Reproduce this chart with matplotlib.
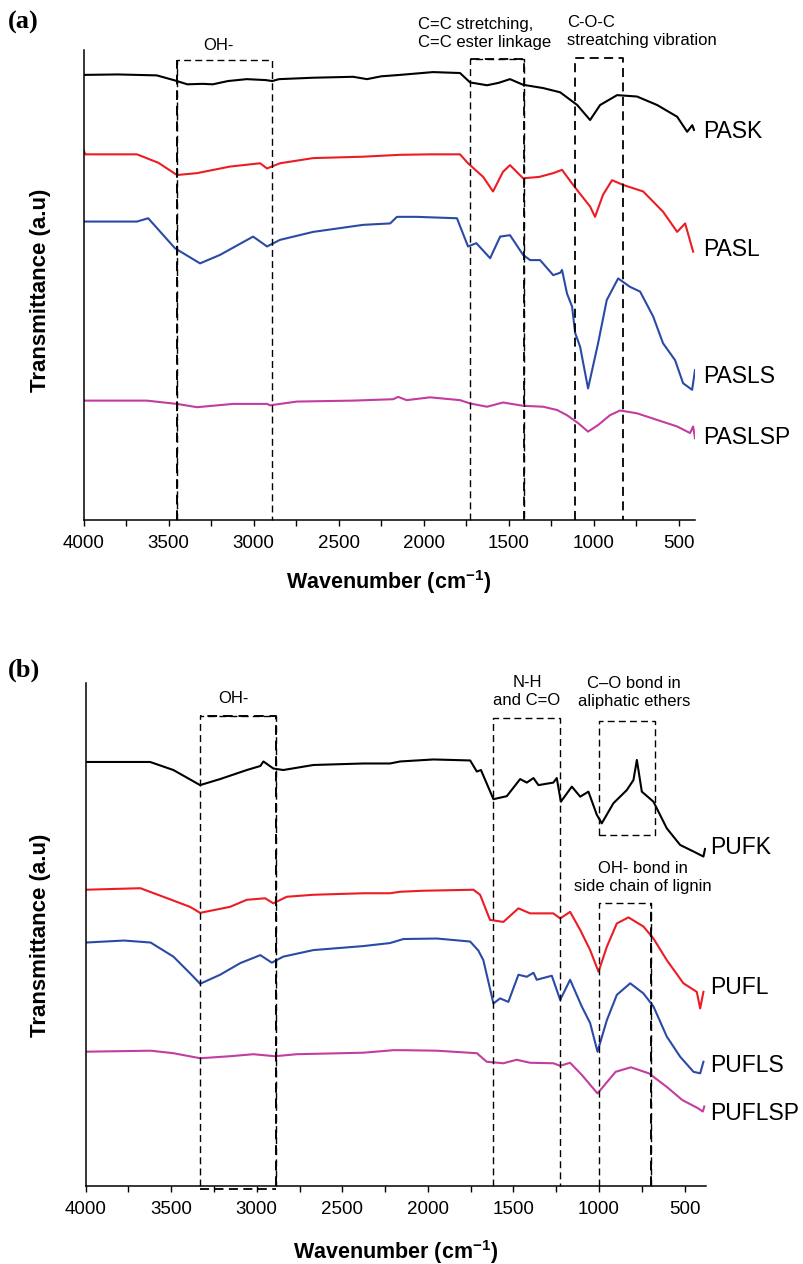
import matplotlib.pyplot as plt
from matplotlib.ticker import MultipleLocator

plt.rcParams['font.family'] = ['Liberation Sans', 'DejaVu Sans']
plt.rcParams['mathtext.default'] = 'regular'

# ---- panel (a) spectra (wavenumber cm-1, transmittance a.u.) ----
pask_wn = [4000, 3800, 3570, 3470, 3390, 3300, 3240, 3150, 3040, 2930, 2890, 2850, 2650,
           2415, 2333, 2250, 2140, 1945, 1786, 1727, 1627, 1560, 1492, 1415, 1297, 1197,
           1097, 1021, 962, 862, 745, 627, 509, 450, 420, 410]
pask_t = [94.7, 94.8, 94.6, 93.6, 92.7, 92.8, 92.7, 93.4, 93.8, 93.6, 93.4, 93.8, 94.1,
          94.3, 93.8, 94.4, 94.7, 95.3, 95.1, 93.1, 92.5, 93.0, 93.8, 92.6, 91.9, 91.0,
          88.3, 85.1, 88.3, 90.4, 90.1, 88.3, 85.8, 82.6, 84.0, 83.0]

pasl_wn = [4000, 3990, 3686, 3560, 3451, 3333, 3139, 2962, 2921, 2845, 2650, 2355, 2140,
           1960, 1786, 1739, 1650, 1592, 1533, 1492, 1415, 1320, 1238, 1186, 1127, 1091,
           1021, 992, 945, 892, 827, 709, 592, 509, 462, 415]
pasl_t = [78.7, 77.8, 77.8, 76.0, 73.4, 73.8, 75.2, 75.9, 74.8, 75.9, 77.0, 77.3, 77.7,
          77.8, 77.8, 75.9, 73.0, 69.9, 74.1, 75.5, 72.7, 73.0, 73.8, 74.5, 71.6, 69.9,
          66.7, 64.5, 69.2, 72.3, 71.3, 69.9, 65.6, 61.3, 63.1, 57.1]

pasls_wn = [4000, 3686, 3620, 3462, 3315, 3198, 3003, 2921, 2845, 2650, 2355, 2197, 2157,
            2039, 1804, 1739, 1690, 1609, 1550, 1492, 1415, 1374, 1315, 1238, 1197, 1186,
            1157, 1127, 1109, 1080, 1033, 974, 923, 856, 786, 727, 650, 592, 521, 474,
            421, 404]
pasls_t = [63.5, 63.5, 64.2, 57.8, 54.6, 56.4, 60.3, 58.2, 59.6, 61.3, 62.8, 63.1, 64.5,
           64.5, 64.2, 58.2, 58.9, 55.7, 60.3, 60.6, 56.4, 55.3, 55.3, 52.1, 52.6, 53.2,
           48.2, 45.4, 39.8, 36.9, 28.0, 37.6, 46.8, 51.4, 49.6, 48.6, 43.3, 37.6, 34.0,
           29.1, 27.7, 31.9]

paslsp_wn = [4000, 3629, 3451, 3333, 3121, 2921, 2904, 2745, 2415, 2179, 2150, 2100, 1962,
             1786, 1727, 1627, 1533, 1415, 1297, 1215, 1157, 1091, 1033, 974, 904, 845,
             745, 627, 509, 433, 415, 404]
paslsp_t = [25.4, 25.4, 24.7, 24.0, 24.7, 24.7, 24.4, 25.2, 25.4, 25.7, 26.2, 25.5, 26.1,
            25.5, 24.8, 24.1, 25.0, 24.3, 24.1, 23.4, 22.3, 20.6, 18.8, 20.2, 22.3, 23.3,
            22.7, 21.3, 19.9, 18.5, 19.9, 17.4]

# ---- panel (b) spectra ----
pufk_wn = [4000, 3623, 3487, 3331, 3214, 3058, 2979, 2961, 2903, 2845, 2669, 2377, 2221,
           2162, 1968, 1753, 1714, 1690, 1617, 1539, 1461, 1422, 1383, 1354, 1267, 1247,
           1223, 1159, 1110, 1062, 1013, 984, 916, 838, 799, 779, 750, 682, 604, 526,
           448, 390, 381]
pufk_t = [84.3, 84.3, 82.7, 79.7, 80.9, 82.7, 83.5, 84.4, 83.0, 82.7, 83.7, 84.0, 84.0,
          84.4, 84.8, 84.6, 82.4, 82.7, 76.9, 77.5, 80.9, 80.2, 81.1, 79.7, 80.2, 81.1,
          76.4, 79.4, 77.4, 78.4, 73.8, 72.1, 76.1, 78.7, 80.7, 84.7, 78.4, 76.4, 71.1,
          67.8, 66.5, 65.5, 67.0]

pufl_wn = [4000, 3680, 3546, 3390, 3331, 3156, 3058, 2951, 2903, 2825, 2669, 2377, 2221,
           2162, 2026, 1734, 1695, 1637, 1559, 1471, 1403, 1267, 1227, 1169, 1110, 1052,
           1003, 954, 896, 828, 741, 682, 604, 507, 429, 409, 390]
pufl_t = [58.9, 59.2, 57.5, 55.5, 54.3, 55.5, 56.9, 57.2, 56.2, 57.5, 57.9, 58.2, 58.2,
          58.5, 58.7, 58.9, 57.9, 52.9, 52.5, 55.2, 54.2, 54.2, 53.2, 54.5, 50.9, 46.9,
          42.6, 47.6, 52.2, 53.4, 51.6, 49.2, 44.9, 40.3, 38.6, 35.3, 38.6]

pufls_wn = [4000, 3775, 3620, 3487, 3390, 3331, 3214, 3097, 2979, 2912, 2845, 2669, 2377,
            2221, 2143, 1948, 1753, 1705, 1676, 1617, 1578, 1530, 1471, 1422, 1383, 1364,
            1276, 1227, 1169, 1101, 1052, 1009, 954, 896, 818, 741, 682, 604, 526, 448,
            409, 390]
pufls_t = [48.4, 48.8, 48.4, 45.6, 42.3, 40.2, 42.0, 44.3, 45.9, 44.4, 45.6, 46.9, 47.7,
           48.3, 49.1, 49.2, 48.6, 46.8, 44.9, 36.3, 37.3, 36.6, 42.0, 41.6, 42.4, 41.0,
           41.8, 37.0, 41.0, 35.7, 32.4, 26.7, 33.0, 38.0, 40.3, 38.3, 35.7, 29.7, 25.7,
           22.7, 22.4, 24.7]

puflsp_wn = [4000, 3620, 3487, 3331, 3156, 3020, 2893, 2766, 2377, 2202, 2143, 1948, 1714,
             1656, 1559, 1481, 1403, 1267, 1227, 1169, 1101, 1009, 903, 814, 709, 604,
             514, 424, 394, 385]
puflsp_t = [26.7, 26.9, 26.4, 25.4, 25.8, 26.2, 25.8, 26.2, 26.5, 27.0, 27.0, 26.9, 26.4,
            24.7, 24.4, 25.1, 24.5, 24.4, 23.9, 24.5, 22.1, 18.4, 22.7, 23.6, 22.4, 19.7,
            17.1, 15.5, 14.8, 15.8]

colors = ['black', '#ec1c24', '#2b4aa6', '#c23d9f']
names_a = ['PASK', 'PASL', 'PASLS', 'PASLSP']
names_b = ['PUFK', 'PUFL', 'PUFLS', 'PUFLSP']

W, H = 804, 1264


def fx(px):
    return px / W


def fy(py):
    return 1 - py / H


fig = plt.figure(figsize=(W / 100, H / 100), dpi=100)
ax_a = fig.add_axes([fx(83.6), fy(520), (695 - 83.6) / W, 470 / H])
ax_b = fig.add_axes([fx(85.6), fy(1186), (706 - 85.6) / W, 503 / H])

for ax, right in [(ax_a, 404), (ax_b, 375)]:
    ax.set_xlim(4000, right)
    ax.set_ylim(0, 100)
    ax.spines['top'].set_visible(False)
    ax.spines['right'].set_visible(False)
    ax.spines['left'].set_linewidth(1.1)
    ax.spines['bottom'].set_linewidth(1.1)
    ax.set_yticks([])
    ax.xaxis.set_major_locator(MultipleLocator(500))
    ax.xaxis.set_minor_locator(MultipleLocator(250))
    ax.tick_params(axis='x', which='both', direction='out', length=4.5, width=1.0,
                   labelsize=13.5, pad=6)

ax_a.plot(pask_wn, pask_t, c=colors[0], lw=1.5)
ax_a.plot(pasl_wn, pasl_t, c=colors[1], lw=1.5)
ax_a.plot(pasls_wn, pasls_t, c=colors[2], lw=1.5)
ax_a.plot(paslsp_wn, paslsp_t, c=colors[3], lw=1.5)

ax_b.plot(pufk_wn, pufk_t, c=colors[0], lw=1.5)
ax_b.plot(pufl_wn, pufl_t, c=colors[1], lw=1.5)
ax_b.plot(pufls_wn, pufls_t, c=colors[2], lw=1.5)
ax_b.plot(puflsp_wn, puflsp_t, c=colors[3], lw=1.5)


def dashed(ax, xs, ys, lw=1.0):
    ax.plot(xs, ys, c='black', lw=lw, ls=(0, (5, 3)), clip_on=False)


# band boxes, panel (a)
dashed(ax_a, [3450, 3450, 2890, 2890], [0, 97.9, 97.9, 0])
dashed(ax_a, [3450, 3450], [0, 97.9], lw=1.4)
dashed(ax_a, [1730, 1730, 1410, 1410], [0, 98.1, 98.1, 0])
dashed(ax_a, [1410, 1410, 1730], [0, 98.1, 98.1], lw=1.3)
dashed(ax_a, [1110, 1110, 830, 830], [0, 98.3, 98.3, 0], lw=1.3)

# band boxes, panel (b)
dashed(ax_b, [3330, 3330, 2890, 2890], [0, 93.4, 93.4, 0])
dashed(ax_b, [2890, 2890, 3330], [0, 93.4, 93.4], lw=1.4)
dashed(ax_b, [3330, 2890], [-0.5, -0.5], lw=1.3)
dashed(ax_b, [1620, 1620, 1230, 1230], [0, 93.0, 93.0, 0])
dashed(ax_b, [1003, 1003, 672, 672, 1003], [69.8, 92.4, 92.4, 69.8, 69.8])
dashed(ax_b, [998, 998, 697, 697], [0, 56.3, 56.3, 0])
dashed(ax_b, [697, 697], [0, 56.3], lw=1.4)

# curve labels
for name, py in zip(names_a, [132, 250, 377, 437]):
    fig.text(fx(703), fy(py), name, fontsize=16.5, va='center', ha='left')
for name, py in zip(names_b, [847, 988, 1065, 1113]):
    fig.text(fx(710), fy(py), name, fontsize=16.5, va='center', ha='left')

# band annotations
fig.text(fx(218), fy(45), 'OH-', fontsize=12, ha='center', va='center')
fig.text(fx(418), fy(33), 'C=C stretching,\nC=C ester linkage', fontsize=12,
         ha='left', va='center', linespacing=1.25)
fig.text(fx(567), fy(31.5), 'C-O-C\nstreatching vibration', fontsize=12,
         ha='left', va='center', linespacing=1.25)

fig.text(fx(233), fy(699), 'OH-', fontsize=12, ha='center', va='center')
fig.text(fx(527), fy(691.5), 'N-H\nand C=O', fontsize=12, ha='center', va='center',
         linespacing=1.25)
fig.text(fx(634), fy(692.5), 'C\u2013O bond in\naliphatic ethers', fontsize=12,
         ha='center', va='center', linespacing=1.25)
fig.text(fx(643), fy(877.5), 'OH- bond in\nside chain of lignin', fontsize=12,
         ha='center', va='center', linespacing=1.25)

# axis titles
for ycen in [290, 935]:
    fig.text(fx(41), fy(ycen), 'Transmittance (a.u)', fontsize=16, fontweight='bold',
             rotation=90, ha='center', va='center')
fig.text(fx(389), fy(582), 'Wavenumber (cm$^{-1}$)', fontsize=15.5, fontweight='bold',
         ha='center', va='center')
fig.text(fx(396), fy(1252), 'Wavenumber (cm$^{-1}$)', fontsize=15.5, fontweight='bold',
         ha='center', va='center')

# panel letters
fig.text(fx(8), fy(22), '(a)', fontsize=19, fontweight='bold',
         family=['Liberation Serif', 'DejaVu Serif'], ha='left', va='center')
fig.text(fx(8), fy(670), '(b)', fontsize=19, fontweight='bold',
         family=['Liberation Serif', 'DejaVu Serif'], ha='left', va='center')

fig.savefig('out.png', dpi=100)
